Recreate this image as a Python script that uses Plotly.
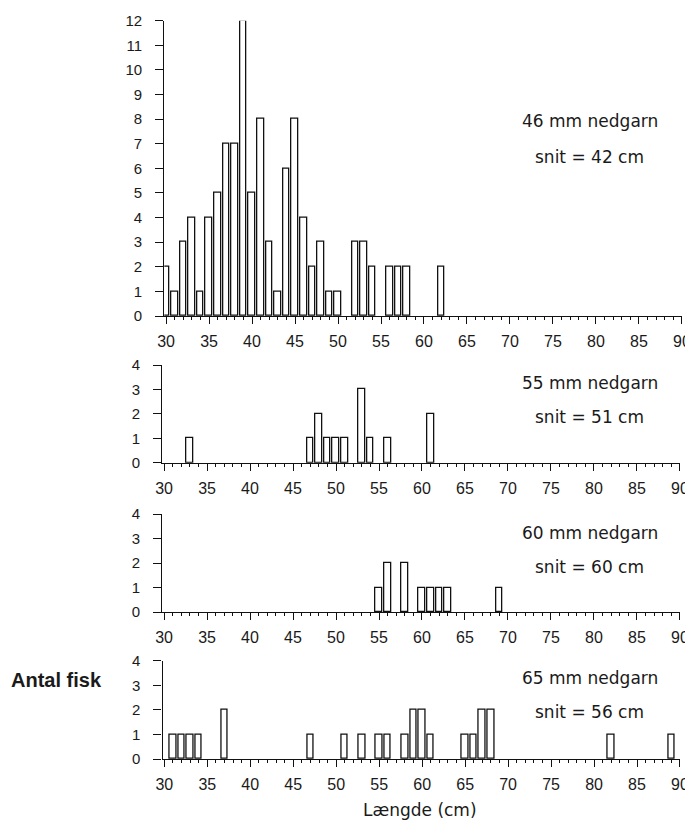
import plotly.graph_objects as go

# ---- data ----
lengths_46 = [30, 31, 32, 33, 34, 35, 36, 37, 38, 39, 40, 41, 42, 43, 44, 45, 46, 47, 48, 49, 50,
              52, 53, 54, 56, 57, 58, 62]
counts_46 = [2, 1, 3, 4, 1, 4, 5, 7, 7, 12, 5, 8, 3, 1, 6, 8, 4, 2, 3, 1, 1,
             3, 3, 2, 2, 2, 2, 2]

lengths_55 = [33, 47, 48, 49, 50, 51, 53, 54, 56, 61]
counts_55 = [1, 1, 2, 1, 1, 1, 3, 1, 1, 2]

lengths_60 = [55, 56, 58, 60, 61, 62, 63, 69]
counts_60 = [1, 2, 2, 1, 1, 1, 1, 1]

lengths_65 = [31, 32, 33, 34, 37, 47, 51, 53, 55, 56, 58, 59, 60, 61, 65, 66, 67, 68, 82, 89]
counts_65 = [1, 1, 1, 1, 2, 1, 1, 1, 1, 1, 1, 2, 2, 1, 1, 1, 2, 2, 1, 1]

panel_titles = ["46 mm nedgarn", "55 mm nedgarn", "60 mm nedgarn", "65 mm nedgarn"]
panel_means = ["snit = 42 cm", "snit = 51 cm", "snit = 60 cm", "snit = 56 cm"]
y_max = [12, 4, 4, 4]
x_ticks = list(range(30, 91, 5))

# page body has an 8px margin: make the figure smaller and offset coordinates
OFF = 8
W, H = 693 - OFF, 823 - OFF

def px_x(p):
    return (p - OFF) / W

def px_y(p):
    return 1 - (p - OFF) / H

# panel geometry (pixels in the final screenshot)
x_dom_px = [(164.3, 682.4), (162.3, 680.4), (162.3, 680.4), (162.6, 680.4)]
y_dom_px = [(316, 20.7), (462.7, 365), (612, 514), (759, 660.7)]
title_y_px = [121, 383, 533, 678]
mean_y_px = [157, 417, 567, 712]

series = [(lengths_46, counts_46), (lengths_55, counts_55),
          (lengths_60, counts_60), (lengths_65, counts_65)]

tick_font = dict(family="Liberation Sans, Arial, sans-serif", size=16, color="#1a1a1a")
ytick_font = dict(family="Liberation Sans, Arial, sans-serif", size=15, color="#1a1a1a")
ann_font = dict(family="DejaVu Sans, sans-serif", size=17, color="#1a1a1a")

fig = go.Figure()
layout = dict(
    width=W, height=H,
    margin=dict(l=0, r=0, t=0, b=0, autoexpand=False),
    paper_bgcolor="white", plot_bgcolor="white",
    showlegend=False,
    bargap=0,
)

annotations = []
for i, (xs, ys) in enumerate(series):
    n = "" if i == 0 else str(i + 1)
    fig.add_trace(go.Bar(
        x=xs, y=ys, width=0.75,
        marker=dict(color="white", line=dict(color="#111111", width=1.3)),
        xaxis="x" + n, yaxis="y" + n,
        hoverinfo="x+y",
    ))
    layout["xaxis" + n] = dict(
        domain=[px_x(x_dom_px[i][0]), px_x(x_dom_px[i][1])],
        range=[29.8, 90.05],
        anchor="y" + n,
        automargin=False,
        tickmode="array", tickvals=x_ticks, ticktext=[str(v) for v in x_ticks],
        ticks="outside", ticklen=7, tickwidth=1.2, tickcolor="#111111",
        minor=dict(dtick=1, tick0=30, ticks="outside", ticklen=3, tickwidth=1, tickcolor="#111111"),
        showline=True, linecolor="#111111", linewidth=1.3,
        showgrid=False, zeroline=False,
        tickfont=tick_font,
        ticklabelstandoff=4,
        fixedrange=True,
    )
    layout["yaxis" + n] = dict(
        domain=[px_y(y_dom_px[i][0]), px_y(y_dom_px[i][1])],
        range=[0, y_max[i]],
        anchor="x" + n,
        automargin=False,
        tickmode="linear", tick0=0, dtick=1,
        ticks="outside", ticklen=8, tickwidth=1.2, tickcolor="#111111",
        showline=True, linecolor="#111111", linewidth=1.3,
        showgrid=False, zeroline=False,
        tickfont=ytick_font,
        ticklabelstandoff=10,
        fixedrange=True,
    )
    annotations.append(dict(
        text=panel_titles[i], x=px_x(590), y=px_y(title_y_px[i]),
        xref="paper", yref="paper", xanchor="center", yanchor="middle",
        showarrow=False, font=ann_font,
    ))
    annotations.append(dict(
        text=panel_means[i], x=px_x(589), y=px_y(mean_y_px[i]),
        xref="paper", yref="paper", xanchor="center", yanchor="middle",
        showarrow=False, font=ann_font,
    ))

annotations.append(dict(
    text="<b>Antal fisk</b>", x=px_x(56), y=px_y(680),
    xref="paper", yref="paper", xanchor="center", yanchor="middle",
    showarrow=False,
    font=dict(family="Liberation Sans, Arial, sans-serif", size=20, color="#1a1a1a"),
))
annotations.append(dict(
    text="Længde (cm)", x=px_x(420), y=px_y(810),
    xref="paper", yref="paper", xanchor="center", yanchor="middle",
    showarrow=False, font=ann_font,
))

layout["annotations"] = annotations
fig.update_layout(**layout)
fig.write_html("out.html")
